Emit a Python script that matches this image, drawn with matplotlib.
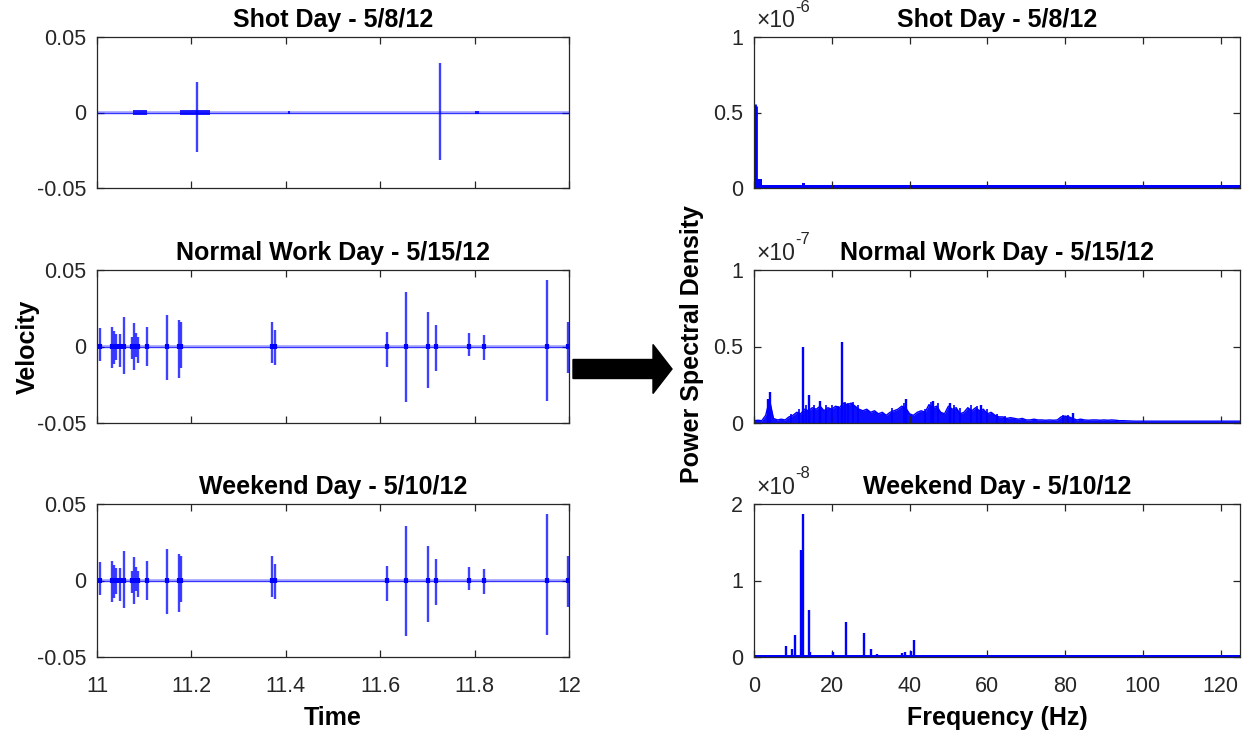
import matplotlib
matplotlib.use("Agg")
import matplotlib.pyplot as plt
from matplotlib.patches import FancyArrow
from matplotlib.ticker import FuncFormatter

plt.rcParams['font.family'] = ['Liberation Sans', 'DejaVu Sans']
plt.rcParams['axes.unicode_minus'] = False

# ---- time domain: spike events (time, upper, lower velocity) ----
shot_spike_t = [11.211, 11.727]
shot_spike_hi = [0.0200, 0.0329]
shot_spike_lo = [-0.0261, -0.0312]
# low level bursts on the shot day trace
shot_burst_t0 = [11.076, 11.176, 11.404, 11.800]
shot_burst_t1 = [11.105, 11.240, 11.409, 11.809]
shot_burst_amp = [0.0017, 0.0015, 0.0008, 0.0008]

work_spike_t = [11.006, 11.031, 11.035, 11.040, 11.048, 11.0565, 11.075, 11.079,
                11.083, 11.087, 11.105, 11.149, 11.173, 11.179, 11.370, 11.377,
                11.615, 11.655, 11.702, 11.718, 11.789, 11.820, 11.953, 11.998]
work_spike_hi = [0.0124, 0.0130, 0.0100, 0.0080, 0.0080, 0.0190, 0.0060, 0.0153,
                 0.0090, 0.0060, 0.0129, 0.0207, 0.0172, 0.0157, 0.0157, 0.0107,
                 0.0098, 0.0357, 0.0227, 0.0139, 0.0085, 0.0074, 0.0434, 0.0161]
work_spike_lo = [-0.0098, -0.0140, -0.0115, -0.0090, -0.0137, -0.0182, -0.0080, -0.0155,
                 -0.0070, -0.0110, -0.0126, -0.0216, -0.0207, -0.0142, -0.0111, -0.0120,
                 -0.0131, -0.0362, -0.0272, -0.0159, -0.0061, -0.0089, -0.0355, -0.0174]

weekend_spike_t = work_spike_t
weekend_spike_hi = work_spike_hi
weekend_spike_lo = work_spike_lo

# ---- power spectral density ----
# shot day (x1e-6): stepped floor + peaks
shot_floor_f = [0.0, 0.85, 2.0, 12.4, 13.0, 125.0]
shot_floor_v = [0.50, 0.062, 0.018, 0.03, 0.018, 0.018]
shot_peak_f = [0.2, 0.45]
shot_peak_v = [0.555, 0.54]

# normal work day (x1e-7): band envelope at 1 Hz, plus narrow peaks
work_env_f = list(range(0, 126))
work_env_v = [0.015, 0.018, 0.015, 0.050, 0.150, 0.030, 0.020, 0.025, 0.020, 0.040,
              0.050, 0.070, 0.060, 0.090, 0.080, 0.100, 0.090, 0.110, 0.080, 0.100,
              0.090, 0.110, 0.100, 0.130, 0.120, 0.130, 0.110, 0.090, 0.080, 0.090,
              0.070, 0.080, 0.060, 0.070, 0.050, 0.070, 0.080, 0.090, 0.110, 0.100,
              0.060, 0.050, 0.070, 0.080, 0.070, 0.120, 0.100, 0.110, 0.070, 0.060,
              0.110, 0.090, 0.100, 0.060, 0.070, 0.100, 0.080, 0.100, 0.080, 0.090,
              0.060, 0.070, 0.050, 0.040, 0.040, 0.030, 0.035, 0.030, 0.025, 0.030,
              0.020, 0.020, 0.025, 0.020, 0.020, 0.018, 0.020, 0.018, 0.020, 0.040,
              0.045, 0.040, 0.030, 0.020, 0.025, 0.020, 0.018, 0.020, 0.020, 0.018,
              0.020, 0.018, 0.020, 0.018, 0.015, 0.015, 0.014, 0.013, 0.012, 0.012,
              0.012, 0.012, 0.012, 0.012, 0.012, 0.012, 0.012, 0.012, 0.012, 0.012,
              0.012, 0.012, 0.012, 0.012, 0.012, 0.012, 0.012, 0.012, 0.012, 0.012,
              0.012, 0.012, 0.012, 0.012, 0.012, 0.012]
work_peak_f = [3.6, 4.1, 12.5, 14.1, 17.0, 22.6, 39.0, 46.0, 50.5, 58.5, 82.0]
work_peak_v = [0.16, 0.20, 0.50, 0.18, 0.145, 0.53, 0.16, 0.145, 0.13, 0.12, 0.063]
# smaller spikes riding on the band
work_minor_f = [9.5, 11.5, 13.3, 15.5, 18.5, 20.0, 21.5, 23.5, 24.3, 25.5, 26.8,
                35.5, 38.5, 44.0, 45.5, 47.2, 51.5, 53.0, 55.8, 57.3, 60.0, 62.5,
                64.5, 79.5, 80.8]
work_minor_v = [0.06, 0.09, 0.12, 0.12, 0.12, 0.12, 0.11, 0.14, 0.13, 0.135, 0.12,
                0.10, 0.13, 0.09, 0.14, 0.13, 0.12, 0.10, 0.115, 0.11, 0.09, 0.06,
                0.045, 0.05, 0.05]

# weekend day (x1e-8)
weekend_floor_f = [0.0, 125.0]
weekend_floor_v = [0.03, 0.03]
weekend_peak_f = [8.2, 9.7, 10.5, 12.2, 12.5, 14.1, 14.5, 20.4, 23.7, 28.3, 30.0,
                  31.6, 38.0, 38.8, 40.4, 41.2]
weekend_peak_v = [0.14, 0.10, 0.29, 1.40, 1.865, 0.61, 0.06, 0.07, 0.46, 0.31, 0.11,
                  0.04, 0.05, 0.06, 0.08, 0.22]

titles = ['Shot Day - 5/8/12', 'Normal Work Day - 5/15/12', 'Weekend Day - 5/10/12']
psd_exp = ['-6', '-7', '-8']
psd_ytop = [1, 1, 2]
psd_yticks = [[0, 0.5, 1], [0, 0.5, 1], [0, 1, 2]]

BLUE = '#0000ff'
GRAY = '#262626'
W, H = 1250, 736

fig = plt.figure(figsize=(12.5, 7.36), dpi=100)


def add_px_axes(x0, y0, x1, y1):
    return fig.add_axes([x0 / W, 1 - y1 / H, (x1 - x0) / W, (y1 - y0) / H])


def style(ax):
    for s in ax.spines.values():
        s.set_color(GRAY)
        s.set_linewidth(0.9)
    ax.tick_params(direction='in', top=True, right=True, length=5, width=0.9,
                   color=GRAY, labelcolor=GRAY, labelsize=15.5)
    ax.tick_params(axis='x', pad=14)
    ax.tick_params(axis='y', pad=8)
    ax.xaxis.set_major_formatter(FuncFormatter(lambda v, p: '%g' % v))
    ax.yaxis.set_major_formatter(FuncFormatter(lambda v, p: '%g' % round(v, 6)))


def draw_trace(ax, t, hi, lo):
    ax.fill_between([11, 12], -0.001, 0.001, color=BLUE, alpha=0.3, lw=0)
    ax.plot([11, 12], [0, 0], color=BLUE, lw=1.0, alpha=0.7)
    ax.vlines(t, lo, hi, color=BLUE, lw=1.7, alpha=0.75)
    ax.vlines(t, -0.0018, 0.0018, color=BLUE, lw=3.0)


rows = [(37, 188), (270, 423), (504, 657)]
left_axes = [add_px_axes(97, r0, 569, r1) for r0, r1 in rows]
right_axes = [add_px_axes(754, r0, 1240, r1) for r0, r1 in rows]

# left column: velocity traces
ax = left_axes[0]
ax.fill_between([11, 12], -0.0009, 0.0009, color=BLUE, alpha=0.3, lw=0)
ax.plot([11, 12], [0, 0], color=BLUE, lw=1.0, alpha=0.7)
for t0, t1, a in zip(shot_burst_t0, shot_burst_t1, shot_burst_amp):
    ax.fill_between([t0, t1], -a, a, color=BLUE, lw=0, alpha=0.85)
ax.vlines(shot_spike_t, shot_spike_lo, shot_spike_hi, color=BLUE, lw=1.7, alpha=0.75)
draw_trace(left_axes[1], work_spike_t, work_spike_hi, work_spike_lo)
draw_trace(left_axes[2], weekend_spike_t, weekend_spike_hi, weekend_spike_lo)

for i, ax in enumerate(left_axes):
    ax.set_xlim(11, 12)
    ax.set_ylim(-0.05, 0.05)
    ax.set_xticks([11, 11.2, 11.4, 11.6, 11.8, 12])
    ax.set_yticks([-0.05, 0, 0.05])
    style(ax)
    if i < 2:
        ax.tick_params(labelbottom=False)
    ax.set_title(titles[i], fontsize=18, fontweight='bold', pad=7)
left_axes[2].set_xlabel('Time', fontsize=18, fontweight='bold', labelpad=6)

# right column: power spectral density
ax = right_axes[0]
ax.fill_between(shot_floor_f, shot_floor_v, step='post', color=BLUE, lw=0)
ax.vlines(shot_peak_f, 0, shot_peak_v, color=BLUE, lw=2.0)

ax = right_axes[1]
ax.fill_between(work_env_f, work_env_v, color=BLUE, lw=0, alpha=0.95)
ax.plot(work_env_f, work_env_v, color=BLUE, lw=1.0)
ax.vlines(work_minor_f, 0, work_minor_v, color=BLUE, lw=1.2)
ax.vlines(work_peak_f, 0, work_peak_v, color=BLUE, lw=1.7)

ax = right_axes[2]
ax.fill_between(weekend_floor_f, weekend_floor_v, color=BLUE, lw=0)
ax.vlines(weekend_peak_f, 0, weekend_peak_v, color=BLUE, lw=1.7)

for i, ax in enumerate(right_axes):
    ax.set_xlim(0, 125)
    ax.set_ylim(0, psd_ytop[i])
    ax.set_xticks([0, 20, 40, 60, 80, 100, 120])
    ax.set_yticks(psd_yticks[i])
    style(ax)
    if i < 2:
        ax.tick_params(labelbottom=False)
    ax.set_title(titles[i], fontsize=18, fontweight='bold', pad=7)
    # exponent multiplier written as "×10" with a raised power
    base = ax.text(0.004, 1.03, '\u00d710', transform=ax.transAxes,
                   fontsize=16.5, color=GRAY, ha='left', va='bottom')
    ax.annotate(psd_exp[i], xy=(1.0, 0.78), xycoords=base, fontsize=12,
                color=GRAY, ha='left', va='bottom')
right_axes[2].set_xlabel('Frequency (Hz)', fontsize=18, fontweight='bold', labelpad=6)

fig.text(28 / W, 1 - 347 / H, 'Velocity', rotation=90, ha='center', va='center',
         fontsize=18, fontweight='bold')
fig.text(692 / W, 1 - 344 / H, 'Power Spectral Density', rotation=90, ha='center',
         va='center', fontsize=18, fontweight='bold')

# arrow between the two columns
over = fig.add_axes([0, 0, 1, 1])
over.set_xlim(0, W)
over.set_ylim(H, 0)
over.axis('off')
over.add_patch(FancyArrow(573, 369, 99, 0, width=19, head_width=49, head_length=19,
                          length_includes_head=True, color='black'))

plt.savefig('out.png', dpi=100)
